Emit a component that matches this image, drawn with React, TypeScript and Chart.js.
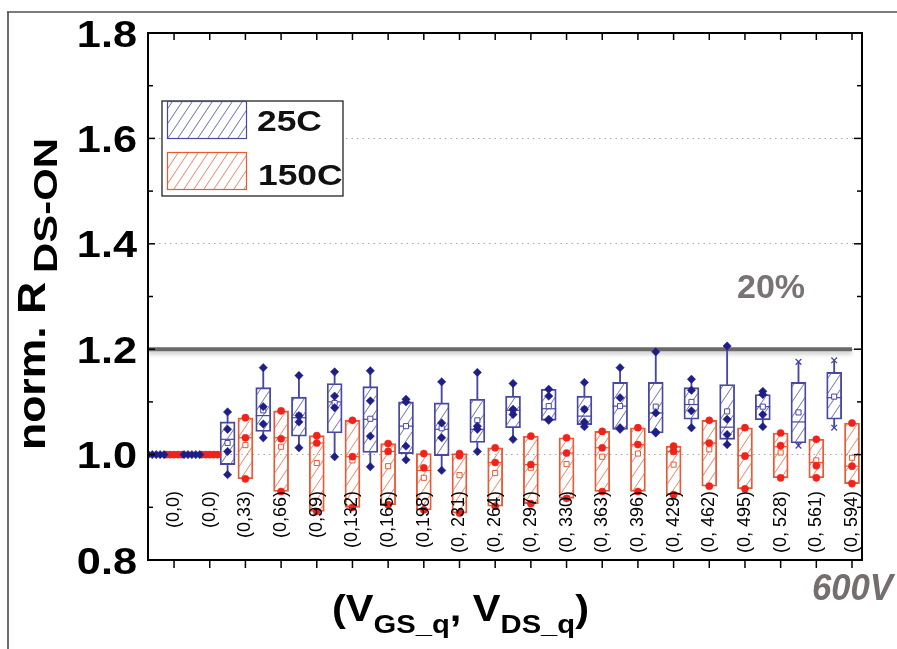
import React, { useEffect, useRef } from "react";
import { Chart, registerables } from "chart.js";
Chart.register(...registerables);

const categories = ["(0,0)", "(0,0)", "(0,33)", "(0,66)", "(0,99)", "(0,132)", "(0,165)", "(0,198)", "(0, 231)", "(0, 264)", "(0, 297)", "(0, 330)", "(0, 363)", "(0, 396)", "(0, 429)", "(0, 462)", "(0, 495)", "(0, 528)", "(0, 561)", "(0, 594)"];

// 25C series (box statistics)
const blueMin = [1.0, 1.0, 0.962, 1.032, 1.013, 0.996, 0.977, 0.990, 0.970, 1.006, 1.029, 1.065, 1.053, 1.048, 1.041, 1.051, 1.019, 1.053, 1.017, 1.051];
const blueQ1 = [1.0, 1.0, 0.981, 1.044, 1.035, 1.041, 1.004, 1.002, 0.998, 1.023, 1.051, 1.065, 1.057, 1.048, 1.041, 1.067, 1.029, 1.066, 1.022, 1.067];
const blueMedian = [1.0, 1.0, 1.029, 1.074, 1.070, 1.100, 1.067, 1.054, 1.048, 1.048, 1.084, 1.087, 1.073, 1.092, 1.079, 1.095, 1.052, 1.091, 1.062, 1.108];
const blueQ3 = [1.0, 1.0, 1.062, 1.127, 1.109, 1.135, 1.129, 1.100, 1.098, 1.105, 1.111, 1.124, 1.111, 1.137, 1.137, 1.127, 1.133, 1.114, 1.137, 1.156];
const blueMax = [1.0, 1.0, 1.081, 1.165, 1.150, 1.157, 1.159, 1.105, 1.138, 1.156, 1.135, 1.124, 1.137, 1.165, 1.195, 1.143, 1.206, 1.120, 1.176, 1.179];
const blueMean = [1.0, 1.0, 1.022, 1.084, 1.074, 1.098, 1.068, 1.054, 1.050, 1.065, 1.084, 1.092, 1.086, 1.092, 1.091, 1.100, 1.082, 1.091, 1.080, 1.110];
const bluePoints = [
  [1, 1, 1, 1, 1],
  [1, 1, 1, 1, 1],
  [1.081, 1.048, 1.006, 0.962],
  [1.165, 1.091, 1.058, 1.032],
  [1.150, 1.074, 1.062, 1.013],
  [1.157, 1.111, 1.089, 0.996],
  [1.159, 1.102, 1.035, 0.977],
  [1.105, 1.100, 1.016, 0.990],
  [1.138, 1.060, 1.032, 0.970],
  [1.156, 1.054, 1.048, 1.006],
  [1.135, 1.086, 1.076, 1.029],
  [1.124, 1.111, 1.067, 1.065],
  [1.137, 1.086, 1.062, 1.053],
  [1.165, 1.108, 1.051, 1.048],
  [1.195, 1.079, 1.043, 1.041],
  [1.143, 1.122, 1.083, 1.051],
  [1.206, 1.067, 1.038, 1.019],
  [1.120, 1.114, 1.076, 1.053],
  [],
  [],
];
const blueCrosses = [[], [], [], [], [], [], [], [], [], [], [], [], [], [], [], [], [], [], [1.176, 1.017], [1.179, 1.051]];

// 150C series (box statistics)
const redMin = [1.0, 1.0, 0.954, 0.930, 0.892, 0.900, 0.905, 0.895, 0.889, 0.902, 0.907, 0.917, 0.930, 0.930, 0.924, 0.940, 0.935, 0.956, 0.956, 0.945];
const redQ1 = [1.0, 1.0, 0.954, 0.930, 0.892, 0.900, 0.905, 0.895, 0.889, 0.902, 0.907, 0.917, 0.930, 0.930, 0.924, 0.940, 0.935, 0.956, 0.956, 0.945];
const redMedian = [1.0, 1.0, 1.032, 1.032, 1.022, 0.996, 1.006, 0.970, 1.000, 0.985, 0.981, 1.003, 1.013, 1.019, 1.006, 1.022, 0.998, 1.015, 0.985, 0.978];
const redQ3 = [1.0, 1.0, 1.070, 1.083, 1.036, 1.065, 1.021, 1.002, 1.002, 1.013, 1.035, 1.032, 1.044, 1.051, 1.016, 1.065, 1.051, 1.041, 1.029, 1.060];
const redMax = [1.0, 1.0, 1.070, 1.083, 1.036, 1.065, 1.021, 1.002, 1.002, 1.013, 1.035, 1.032, 1.044, 1.051, 1.016, 1.065, 1.051, 1.041, 1.029, 1.060];
const redMean = [1.0, 1.0, 1.018, 1.015, 0.984, 0.989, 0.978, 0.956, 0.961, 0.965, 0.975, 0.982, 0.996, 1.002, 0.981, 1.010, 0.998, 1.004, 0.989, 0.994];
const redPoints = [
  [1, 1, 1, 1, 1],
  [1, 1, 1, 1, 1],
  [1.070, 1.032, 0.954],
  [1.083, 1.030, 0.930],
  [1.036, 1.022, 0.892],
  [1.065, 0.996, 0.900],
  [1.021, 1.006, 0.905],
  [1.002, 0.975, 0.895],
  [1.002, 0.998, 0.889],
  [1.013, 0.985, 0.902],
  [1.035, 0.981, 0.907],
  [1.032, 1.003, 0.917],
  [1.044, 1.013, 0.930],
  [1.051, 1.019, 0.930],
  [1.016, 1.006, 0.924],
  [1.065, 1.022, 0.940],
  [1.051, 0.997, 0.935],
  [1.041, 1.017, 0.956],
  [1.029, 0.979, 0.956],
  [1.060, 0.978, 0.945],
];

const limitValue = 1.2;
const yTickValues = [0.8, 1.0, 1.2, 1.4, 1.6, 1.8];

// layout
const W = 897;
const H = 649;
const BLUE_SHIFT = -0.5;
const X_MIN = -0.73;
const X_MAX = 19.28;
const SPREAD = 0.11;

const BLUE_LINE = "#4848a2";
const BLUE_HATCH = "#5c5cb2";
const BLUE_DOT = "#1e1e88";
const RED_LINE = "#e65a36";
const RED_HATCH = "#eb7350";
const RED_DOT = "#f0221a";
const FONT = '"Liberation Sans", Arial, sans-serif';

function makeHatch(color: string): CanvasPattern {
  const c = document.createElement("canvas");
  const w = 10, h = 15;
  c.width = w;
  c.height = h;
  const g = c.getContext("2d")!;
  g.strokeStyle = color;
  g.lineWidth = 0.9;
  g.beginPath();
  for (const dx of [-w, 0, w]) {
    g.moveTo(dx, h);
    g.lineTo(dx + w, 0);
  }
  g.stroke();
  return g.createPattern(c, "repeat")!;
}

function sText(ctx: CanvasRenderingContext2D, text: string, x: number, y: number, font: string, color: string, sx: number, align: "left" | "right" | "center") {
  ctx.save();
  ctx.font = font;
  ctx.fillStyle = color;
  ctx.textBaseline = "alphabetic";
  ctx.textAlign = "left";
  const w = ctx.measureText(text).width * sx;
  const x0 = align === "left" ? x : align === "right" ? x - w : x - w / 2;
  ctx.translate(x0, y);
  ctx.scale(sx, 1);
  ctx.fillText(text, 0, 0);
  ctx.restore();
  return w;
}

function rText(ctx: CanvasRenderingContext2D, text: string, x: number, y: number, font: string, color: string, len: number) {
  ctx.save();
  ctx.font = font;
  ctx.fillStyle = color;
  const w = ctx.measureText(text).width;
  ctx.translate(x, y);
  ctx.rotate(-Math.PI / 2);
  ctx.scale(len / w, 1);
  ctx.textAlign = "left";
  ctx.textBaseline = "alphabetic";
  ctx.fillText(text, 0, 0);
  ctx.restore();
}

export default function App() {
  const ref = useRef<HTMLCanvasElement>(null);
  useEffect(() => {
    document.body.style.margin = "0";
    const canvas = ref.current!;
    const blueHatch = makeHatch(BLUE_HATCH);
    const redHatch = makeHatch(RED_HATCH);

    const idx = categories.map((_, i) => i);
    const hasBox = (q1: number[], q3: number[], i: number) => q3[i] > q1[i];

    const whiskers = (q1: number[], q3: number[], mn: number[], mx: number[], shift: number) =>
      idx.filter((i) => hasBox(q1, q3, i)).flatMap((i) => [
        { x: i + shift, y: [mn[i], q1[i]] },
        { x: i + shift, y: [q3[i], mx[i]] },
      ]);
    const boxes = (q1: number[], q3: number[], shift: number) =>
      idx.filter((i) => hasBox(q1, q3, i)).map((i) => ({ x: i + shift, y: [q1[i], q3[i]] }));
    const singles = (q1: number[], q3: number[], v: number[], shift: number) =>
      idx.filter((i) => hasBox(q1, q3, i)).map((i) => ({ x: i + shift, y: v[i] }));
    const pts = (q1: number[], q3: number[], p: number[][], shift: number) =>
      idx.flatMap((i) => {
        const flat = !hasBox(q1, q3, i);
        const n = p[i].length;
        return p[i].map((v, k) => ({ x: i + shift + (flat ? (k - (n - 1) / 2) * SPREAD : 0), y: v }));
      });

    const decor = {
      id: "decor",
      beforeDatasetDraw(chart: any, args: any) {
        if (args.index === 0) {
          const c = chart.ctx;
          c.save();
          c.shadowColor = "rgba(0,0,0,0.22)";
          c.shadowBlur = 4;
          c.shadowOffsetY = 3;
        }
      },
      afterDatasetDraw(chart: any, args: any) {
        if (args.index === 0) chart.ctx.restore();
      },
      afterDraw(chart: any) {
        const ctx: CanvasRenderingContext2D = chart.ctx;
        const { left, right, top, bottom } = chart.chartArea;
        const xs = chart.scales.x;
        const ys = chart.scales.y;
        const line = (x1: number, y1: number, x2: number, y2: number) => {
          ctx.beginPath();
          ctx.moveTo(x1, y1);
          ctx.lineTo(x2, y2);
          ctx.stroke();
        };
        ctx.save();
        // outer frame
        ctx.strokeStyle = "#7c7c7c";
        ctx.lineWidth = 2;
        line(7, 12, W, 12);
        ctx.strokeStyle = "#3a3a3a";
        ctx.lineWidth = 1.5;
        line(8, 12, 8, H);
        // axes box
        ctx.strokeStyle = "#000";
        ctx.lineWidth = 2;
        ctx.strokeRect(left, top, right - left, bottom - top);
        ctx.lineWidth = 1.5;
        idx.forEach((i) => {
          const px = xs.getPixelForValue(i);
          line(px, bottom, px, bottom + 8);
          line(px, top, px, top + 7);
        });
        const ticks = ys.ticks;
        ticks.forEach((t: any, k: number) => {
          const py = ys.getPixelForValue(t.value);
          line(left, py, left + 7, py);
          line(right, py, right - 8, py);
          if (k < ticks.length - 1) {
            const pm = ys.getPixelForValue((t.value + ticks[k + 1].value) / 2);
            line(left, pm, left + 5, pm);
            line(right, pm, right - 5, pm);
          }
          sText(ctx, Number(t.value).toFixed(1), left - 11, py + 13.5, `bold 37px ${FONT}`, "#000", 1.17, "right");
        });
        // category labels inside plot
        ctx.font = `18px ${FONT}`;
        ctx.fillStyle = "#000";
        categories.forEach((c, i) => {
          const px = xs.getPixelForValue(i);
          ctx.save();
          ctx.translate(px, 491);
          ctx.rotate(-Math.PI / 2);
          ctx.textAlign = "right";
          ctx.textBaseline = "middle";
          ctx.fillText(c, 0, 0);
          ctx.restore();
        });
        // legend
        ctx.fillStyle = "#fff";
        ctx.fillRect(162, 101, 181, 95);
        ctx.strokeStyle = "#111";
        ctx.lineWidth = 1.2;
        ctx.strokeRect(162, 101, 181, 95);
        ctx.fillStyle = blueHatch;
        ctx.fillRect(167.5, 101.5, 79, 37);
        ctx.strokeStyle = BLUE_LINE;
        ctx.lineWidth = 1.2;
        ctx.strokeRect(167.5, 101.5, 79, 37);
        ctx.fillStyle = redHatch;
        ctx.fillRect(167.5, 152.5, 79, 37);
        ctx.strokeStyle = RED_LINE;
        ctx.strokeRect(167.5, 152.5, 79, 37);
        sText(ctx, "25C", 257, 131, `bold 29px ${FONT}`, "#111", 1.22, "left");
        sText(ctx, "150C", 258, 185, `bold 29px ${FONT}`, "#111", 1.22, "left");
        // y title
        rText(ctx, "norm. R", 45, 450, `bold 38px ${FONT}`, "#000", 168);
        rText(ctx, "DS-ON", 57, 273, `bold 33px ${FONT}`, "#000", 135);
        // x title
        const pieces = [
          { t: "(V", f: `bold 37px ${FONT}`, b: 621 },
          { t: "GS_q", f: `bold 26px ${FONT}`, b: 633 },
          { t: ", V", f: `bold 37px ${FONT}`, b: 621 },
          { t: "DS_q", f: `bold 26px ${FONT}`, b: 633 },
          { t: ")", f: `bold 37px ${FONT}`, b: 621 },
        ];
        let total = 0;
        pieces.forEach((p) => {
          ctx.font = p.f;
          total += ctx.measureText(p.t).width;
        });
        const s = 257 / total;
        let cx = 332;
        pieces.forEach((p) => {
          cx += sText(ctx, p.t, cx, p.b, p.f, "#000", s, "left");
        });
        // annotations
        sText(ctx, "20%", 737, 298, `bold 34px ${FONT}`, "#7a7373", 1.0, "left");
        ctx.font = `bold italic 36px ${FONT}`;
        const w600 = ctx.measureText("600V").width;
        sText(ctx, "600V", 812, 600, `bold italic 36px ${FONT}`, "#756e6e", 81 / w600, "left");
        ctx.restore();
      },
    };

    const chart = new Chart(canvas, {
      type: "bar",
      data: {
        datasets: [
          {
            type: "line",
            label: "limit",
            data: [{ x: X_MIN, y: limitValue }, { x: categories.length - 1, y: limitValue }],
            borderColor: "#6d6868",
            borderWidth: 4,
            pointRadius: 0,
            order: 10,
          } as any,
          {
            label: "25C whiskers",
            data: whiskers(blueQ1, blueQ3, blueMin, blueMax, BLUE_SHIFT),
            backgroundColor: BLUE_LINE,
            borderWidth: 0,
            barThickness: 1.2,
            grouped: false,
            order: 8,
          } as any,
          {
            label: "150C whiskers",
            data: whiskers(redQ1, redQ3, redMin, redMax, 0),
            backgroundColor: RED_LINE,
            borderWidth: 0,
            barThickness: 1.2,
            grouped: false,
            order: 8,
          } as any,
          {
            label: "25C",
            data: boxes(blueQ1, blueQ3, BLUE_SHIFT),
            backgroundColor: blueHatch,
            borderColor: BLUE_LINE,
            borderWidth: 1.2,
            borderSkipped: false,
            barThickness: 15,
            grouped: false,
            order: 6,
          } as any,
          {
            label: "150C",
            data: boxes(redQ1, redQ3, 0),
            backgroundColor: redHatch,
            borderColor: RED_LINE,
            borderWidth: 1.2,
            borderSkipped: false,
            barThickness: 15,
            grouped: false,
            order: 6,
          } as any,
          {
            type: "scatter",
            label: "25C median",
            data: singles(blueQ1, blueQ3, blueMedian, BLUE_SHIFT),
            pointStyle: "line",
            pointRadius: 7.5,
            borderColor: BLUE_LINE,
            borderWidth: 1.2,
            order: 4,
          } as any,
          {
            type: "scatter",
            label: "150C median",
            data: singles(redQ1, redQ3, redMedian, 0),
            pointStyle: "line",
            pointRadius: 7.5,
            borderColor: RED_LINE,
            borderWidth: 1.2,
            order: 4,
          } as any,
          {
            type: "scatter",
            label: "25C mean",
            data: singles(blueQ1, blueQ3, blueMean, BLUE_SHIFT),
            pointStyle: "rect",
            pointRadius: 3.6,
            backgroundColor: "#ffffff",
            borderColor: BLUE_LINE,
            borderWidth: 1,
            order: 3,
          } as any,
          {
            type: "scatter",
            label: "150C mean",
            data: singles(redQ1, redQ3, redMean, 0),
            pointStyle: "rect",
            pointRadius: 3.6,
            backgroundColor: "#ffffff",
            borderColor: RED_LINE,
            borderWidth: 1,
            order: 3,
          } as any,
          {
            type: "scatter",
            label: "25C points",
            data: pts(blueQ1, blueQ3, bluePoints, BLUE_SHIFT),
            pointStyle: "rectRot",
            pointRadius: 4.2,
            backgroundColor: BLUE_DOT,
            borderColor: BLUE_DOT,
            borderWidth: 0.5,
            order: 1,
          } as any,
          {
            type: "scatter",
            label: "25C extremes",
            data: pts(blueQ1, blueQ3, blueCrosses, BLUE_SHIFT),
            pointStyle: "crossRot",
            pointRadius: 4,
            borderColor: BLUE_LINE,
            borderWidth: 1.3,
            order: 1,
          } as any,
          {
            type: "scatter",
            label: "150C points",
            data: pts(redQ1, redQ3, redPoints, 0),
            pointStyle: "circle",
            pointRadius: 3.6,
            backgroundColor: RED_DOT,
            borderColor: RED_DOT,
            borderWidth: 0.5,
            order: 1,
          } as any,
        ],
      },
      options: {
        responsive: false,
        animation: false,
        layout: { padding: { left: 0, top: 33, right: W - 862, bottom: H - 560 } },
        plugins: { legend: { display: false }, tooltip: { enabled: false } },
        events: [],
        scales: {
          x: {
            type: "linear",
            min: X_MIN,
            max: X_MAX,
            offset: false,
            display: false,
          },
          y: {
            type: "linear",
            min: yTickValues[0],
            max: yTickValues[yTickValues.length - 1],
            beginAtZero: false,
            afterBuildTicks: (scale: any) => {
              scale.ticks = yTickValues.map((v) => ({ value: v }));
            },
            afterFit: (scale: any) => {
              scale.width = 148;
            },
            ticks: { display: false },
            grid: {
              drawTicks: false,
              lineWidth: 1,
              color: (c: any) => {
                const v = c.tick ? c.tick.value : 0;
                return v > yTickValues[0] + 1e-6 && v < yTickValues[yTickValues.length - 1] - 1e-6 ? "#a8a8a8" : "rgba(0,0,0,0)";
              },
            },
            border: { display: false, dash: [1.5, 4] },
          },
        },
      } as any,
      plugins: [decor as any],
    });
    return () => chart.destroy();
  }, []);
  return (
    <div style={{ width: W, height: H, background: "#fff" }}>
      <canvas ref={ref} width={W} height={H} style={{ display: "block" }} />
    </div>
  );
}
